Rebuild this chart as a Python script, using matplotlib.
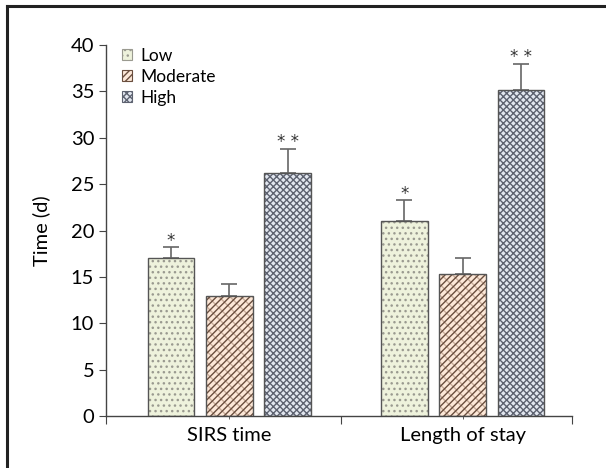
import matplotlib
matplotlib.use("Agg")
import matplotlib.pyplot as plt
from matplotlib.lines import Line2D
from matplotlib.patches import Patch
import numpy as np

categories = ["SIRS time", "Length of stay"]
groups = ["Low", "Moderate", "High"]
means = {
    "Low": [17.0, 21.0],
    "Moderate": [12.9, 15.3],
    "High": [26.2, 35.2],
}
errors = {
    "Low": [1.2, 2.3],
    "Moderate": [1.3, 1.7],
    "High": [2.6, 2.8],
}
signif = {
    "Low": ["*", "*"],
    "Moderate": ["", ""],
    "High": ["* *", "* *"],
}
yticks = [0, 5, 10, 15, 20, 25, 30, 35, 40]

fills = {"Low": "#eef2dc", "Moderate": "#fde8d8", "High": "#e2e7f0"}
hatch_cols = {"Low": "#9a9a90", "Moderate": "#6a4e3e", "High": "#5d6270"}
hatches = {"Low": "...", "Moderate": "/////", "High": "xxxxx"}
under_hatch = {"Moderate": ("\\\\\\", "#c9ad9a")}

plt.rcParams["font.family"] = ["Lato", "DejaVu Sans"]
plt.rcParams["hatch.linewidth"] = 1.0

fig = plt.figure(figsize=(6.06, 4.68), dpi=100)
ax = fig.add_axes([106 / 606, 52 / 468, 466 / 606, 371 / 468])

x = np.arange(len(categories))
width = 0.2
offset = 0.25
for i, g in enumerate(groups):
    pos = x + (i - 1) * offset
    if g in under_hatch:
        h2, c2 = under_hatch[g]
        ax.bar(pos, means[g], width, color=fills[g], edgecolor=c2,
               hatch=h2, linewidth=0, zorder=2)
        ax.bar(pos, means[g], width, color="none", edgecolor=hatch_cols[g],
               hatch=hatches[g], linewidth=0, zorder=2.5)
    else:
        ax.bar(pos, means[g], width, color=fills[g], edgecolor=hatch_cols[g],
               hatch=hatches[g], linewidth=0, zorder=2)
    ax.bar(pos, means[g], width, color="none", edgecolor="#555555",
           linewidth=1.0, zorder=3)
    ax.errorbar(pos, means[g], yerr=[np.zeros(len(x)), errors[g]], fmt="none",
                ecolor="#666666", elinewidth=1.2, capsize=6, capthick=1.2, zorder=1)
    for p, m, e, s in zip(pos, means[g], errors[g], signif[g]):
        if s:
            ax.text(p, m + e + 0.15, s, ha="center", va="baseline", fontsize=12,
                    color="#333333", family="DejaVu Sans")

ax.set_xlim(-0.528, 1.468)
ax.set_ylim(0, 40)
ax.set_yticks(yticks)
ax.set_xticks([-0.528, 0.48, 1.468])
ax.set_xticklabels([])
ax.set_xticks(x, minor=True)
ax.set_xticklabels(categories, minor=True, fontsize=14.5)
ax.tick_params(axis="x", which="major", length=6, direction="out", color="#444444")
ax.tick_params(axis="x", which="minor", length=4, direction="inout", color="#444444", pad=6)
ax.tick_params(axis="y", length=5, direction="out", color="#444444", labelsize=14.5)
for sp in ["top", "right"]:
    ax.spines[sp].set_visible(False)
for sp in ["left", "bottom"]:
    ax.spines[sp].set_color("#444444")
    ax.spines[sp].set_linewidth(1.0)
ax.set_ylabel("Time (d)", fontsize=14.5, labelpad=15)

handles = [Patch(facecolor=fills[g], edgecolor=hatch_cols[g], hatch=hatches[g],
                 linewidth=0.8) for g in groups]
ax.legend(handles, groups, loc="upper left", bbox_to_anchor=(0.0, 1.035),
          frameon=False, fontsize=12.5, handlelength=0.6, handleheight=0.6,
          handletextpad=0.5, labelspacing=0.3)

fig.add_artist(Line2D([7 / 606, 7 / 606], [0, 1 - 6 / 468], color="#222222", lw=2.2))
fig.add_artist(Line2D([7 / 606, 1], [1 - 6 / 468, 1 - 6 / 468], color="#222222", lw=2.2))

fig.savefig("out.png", dpi=100)
